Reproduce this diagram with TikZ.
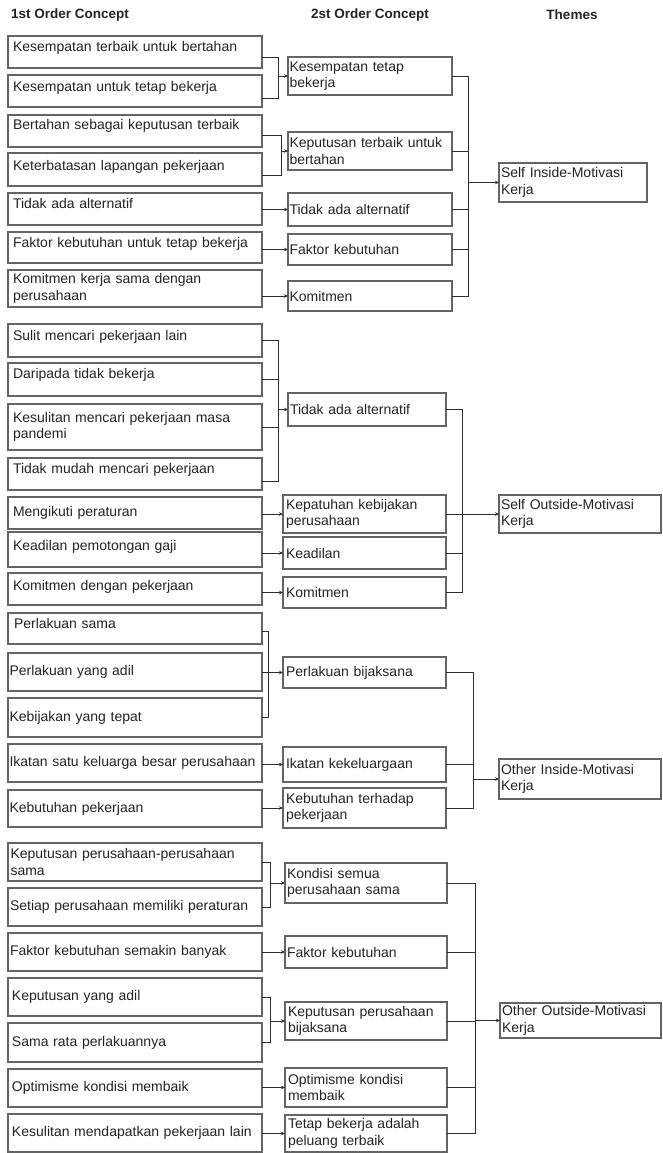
\documentclass[tikz,border=0pt]{standalone}
\usepackage{fontspec}
\setmainfont{Liberation Sans}
\usetikzlibrary{arrows.meta}

\definecolor{boxc}{RGB}{100,100,100}
\definecolor{linec}{RGB}{45,45,45}
\definecolor{txtc}{RGB}{35,35,35}

\newcommand\bodyfont{\fontsize{14}{16.5}\selectfont}
\newcommand\headfont{\fontsize{13.5}{16}\selectfont\bfseries}

% \conceptbox[padding]{x1}{y1}{x2}{y2}{options}{name}{text}
% draws a box from its top-left to its bottom-right corner (y grows downwards)
\newcommand\conceptbox[8][4]{%
  \pgfmathsetmacro\cbw{#4-#2}%
  \pgfmathsetmacro\cbh{#5-#3}%
  \pgfmathsetmacro\cbt{#4-#2-2*#1}%
  \node[cbox,inner xsep=#1pt,minimum width=\cbw pt,minimum height=\cbh pt,
        text width=\cbt pt,#6] (#7) at (#2,#3) {#8};}

\tikzset{
  cbox/.style={draw=boxc, line width=1.1pt, rectangle, anchor=north west,
               align=left, inner ysep=1pt, outer sep=0pt, font=\bodyfont, text=txtc},
  up/.style={text height=10pt, text depth=#1},
  hd/.style={font=\headfont, text=txtc, inner sep=0pt},
  ln/.style={draw=linec, line width=0.9pt},
  arr/.style={ln, -{Stealth[length=4pt,width=3.5pt]}},
}

\begin{document}
\begin{tikzpicture}[x=1pt,y=-1pt]
\useasboundingbox (0,0) rectangle (662,1153);

% column headings
\node[hd] (h1) at (70,15) {1st Order Concept};
\node[hd] (h2) at (370,15) {2st Order Concept};
\node[hd] (h3) at (572,15) {Themes};

% ---------------- Self Inside ----------------
\conceptbox[5]{8}{36}{262}{68}{up=11pt}{a1}{Kesempatan terbaik untuk bertahan}
\conceptbox[5]{8}{75}{262}{107}{up=9pt}{a2}{Kesempatan untuk tetap bekerja}
\conceptbox[5]{8}{115}{262}{147}{up=13pt}{a3}{Bertahan sebagai keputusan terbaik}
\conceptbox[5]{8}{153}{262}{186}{up=8pt}{a4}{Keterbatasan lapangan pekerjaan}
\conceptbox[5]{8}{193}{262}{225}{up=11pt}{a5}{Tidak ada alternatif}
\conceptbox[5]{8}{232}{262}{263}{up=10pt}{a6}{Faktor kebutuhan untuk tetap bekerja}
\conceptbox[5]{8}{270}{262}{307}{}{a7}{Komitmen kerja sama dengan\\perusahaan}

\conceptbox[1.5]{288}{57}{452}{95}{}{b1}{Kesempatan tetap\\bekerja}
\conceptbox[1.5]{288}{132}{452}{170}{}{b2}{Keputusan terbaik untuk\\bertahan}
\conceptbox[1.5]{288}{193}{452}{226}{}{b3}{Tidak ada alternatif}
\conceptbox[1.5]{288}{234}{452}{265}{}{b4}{Faktor kebutuhan}
\conceptbox[1.5]{288}{281}{452}{311}{}{b5}{Komitmen}

\conceptbox[2]{499}{163}{647}{202}{}{t1}{Self Inside-Motivasi\\Kerja}

\coordinate (j1) at (278,76);
\coordinate (j2) at (281,151);
\coordinate (k1) at (468,182.5);
\draw[ln] ([yshift=-5pt]a1.east) -| (j1);
\draw[ln] ([yshift=-7pt]a2.east) -| (j1);
\draw[arr] (j1) -- (b1.west);
\draw[ln] ([yshift=-4pt]a3.east) -| (j2);
\draw[ln] ([yshift=-5.5pt]a4.east) -| (j2);
\draw[arr] (j2) -- (b2.west);
\draw[arr] (a5.east |- b3.west) -- (b3.west);
\draw[arr] (a6.east |- b4.west) -- (b4.west);
\draw[arr] (a7.east |- b5.west) -- (b5.west);
\foreach \b in {b1,b2,b3,b4,b5} \draw[ln] (\b.east) -| (k1);
\draw[arr] (k1) -- (t1.west);

% ---------------- Self Outside ----------------
\conceptbox[5]{8}{324}{262}{357}{up=10pt}{a8}{Sulit mencari pekerjaan lain}
\conceptbox[5]{8}{363}{262}{396}{up=12pt}{a9}{Daripada tidak bekerja}
\conceptbox[5]{8}{404}{262}{450}{}{a10}{Kesulitan mencari pekerjaan masa\\pandemi}
\conceptbox[5]{8}{458}{262}{490}{up=11pt}{a11}{Tidak mudah mencari pekerjaan}
\conceptbox[5]{8}{497}{262}{529}{}{a12}{Mengikuti peraturan}
\conceptbox[5]{8}{532}{262}{567}{up=8pt}{a13}{Keadilan pemotongan gaji}
\conceptbox[5]{8}{573}{262}{605}{up=7pt}{a14}{Komitmen dengan pekerjaan}

\conceptbox[2]{288}{393}{446}{426}{}{b6}{Tidak ada alternatif}
\conceptbox[3]{283}{495}{446}{533}{}{b7}{Kepatuhan kebijakan\\perusahaan}
\conceptbox[3]{283}{537}{446}{569}{}{b8}{Keadilan}
\conceptbox[3]{283}{577}{446}{608}{}{b9}{Komitmen}

\conceptbox[2]{499}{495}{661}{533}{}{t2}{Self Outside-Motivasi\\Kerja}

\coordinate (j3) at (278,409.5);
\coordinate (k2) at (462,514);
\draw[ln] (a8.east) -| (j3);
\draw[ln] (a9.east) -| (j3);
\draw[ln] (a10.east) -| (j3);
\draw[ln] ([yshift=-7pt]a11.east) -| (j3);
\draw[arr] (j3) -- (b6.west);
\draw[arr] (a12.east |- b7.west) -- (b7.west);
\draw[arr] (a13.east |- b8.west) -- (b8.west);
\draw[arr] (a14.east |- b9.west) -- (b9.west);
\foreach \b in {b6,b7,b8,b9} \draw[ln] (\b.east) -| (k2);
\draw[arr] (k2) -- (t2.west);

% ---------------- Other Inside ----------------
\conceptbox[6]{8}{613}{262}{644}{up=10pt}{a15}{Perlakuan sama}
\conceptbox[1.5]{8}{653}{262}{691}{}{a16}{Perlakuan yang adil}
\conceptbox[1.5]{8}{698}{262}{737}{}{a17}{Kebijakan yang tepat}
\conceptbox[1.5]{8}{744}{262}{782}{}{a18}{Ikatan satu keluarga besar perusahaan}
\conceptbox[1.5]{8}{790}{262}{827}{}{a19}{Kebutuhan pekerjaan}

\conceptbox[3]{283}{657}{446}{688}{}{b10}{Perlakuan bijaksana}
\conceptbox[3]{283}{747}{446}{782}{}{b11}{Ikatan kekeluargaan}
\conceptbox[3]{283}{788}{446}{828}{}{b12}{Kebutuhan terhadap\\pekerjaan}

\conceptbox[2]{499}{759}{661}{799}{}{t3}{Other Inside-Motivasi\\Kerja}

\coordinate (j4) at (268,672.5);
\coordinate (k3) at (473,779);
\draw[ln] ([yshift=-2.5pt]a15.east) -| (j4);
\draw[ln] (a16.east) -| (j4);
\draw[ln] (a17.east) -| (j4);
\draw[arr] (j4) -- (b10.west);
\draw[arr] (a18.east |- b11.west) -- (b11.west);
\draw[arr] (a19.east |- b12.west) -- (b12.west);
\foreach \b in {b10,b11,b12} \draw[ln] (\b.east) -| (k3);
\draw[arr] (k3) -- (t3.west);

% ---------------- Other Outside ----------------
\conceptbox[2.5]{8}{843}{262}{881}{}{a20}{Keputusan perusahaan-perusahaan\\sama}
\conceptbox[2]{8}{888}{262}{926}{}{a21}{Setiap perusahaan memiliki peraturan}
\conceptbox[2]{8}{933}{262}{971}{}{a22}{Faktor kebutuhan semakin banyak}
\conceptbox[4]{8}{978}{262}{1016}{}{a23}{Keputusan yang adil}
\conceptbox[4]{8}{1023}{262}{1062}{}{a24}{Sama rata perlakuannya}
\conceptbox[4]{8}{1069}{262}{1107}{}{a25}{Optimisme kondisi membaik}
\conceptbox[4]{8}{1114}{262}{1152}{}{a26}{Kesulitan mendapatkan pekerjaan lain}

\conceptbox[2]{285}{863}{447}{903}{}{b13}{Kondisi semua\\perusahaan sama}
\conceptbox[2]{285}{936}{447}{968}{}{b14}{Faktor kebutuhan}
\conceptbox[3]{285}{1002}{447}{1040}{}{b15}{Keputusan perusahaan\\bijaksana}
\conceptbox[3]{285}{1068}{447}{1107}{}{b16}{Optimisme kondisi\\membaik}
\conceptbox[3]{285}{1115}{447}{1152}{}{b17}{Tetap bekerja adalah\\peluang terbaik}

\conceptbox[2]{500}{1003}{661}{1038}{}{t4}{Other Outside-Motivasi\\Kerja}

\coordinate (j5) at (270,883);
\coordinate (j6) at (270,1021);
\coordinate (k4) at (475,1020.5);
\draw[ln] (a20.east) -| (j5);
\draw[ln] (a21.east) -| (j5);
\draw[arr] (j5) -- (b13.west);
\draw[arr] (a22.east |- b14.west) -- (b14.west);
\draw[ln] (a23.east) -| (j6);
\draw[ln] (a24.east) -| (j6);
\draw[arr] (j6) -- (b15.west);
\draw[arr] (a25.east |- b16.west) -- (b16.west);
\draw[arr] (a26.east |- b17.west) -- (b17.west);
\foreach \b in {b13,b14,b15,b16,b17} \draw[ln] (\b.east) -| (k4);
\draw[arr] (k4) -- (t4.west);
\end{tikzpicture}
\end{document}
